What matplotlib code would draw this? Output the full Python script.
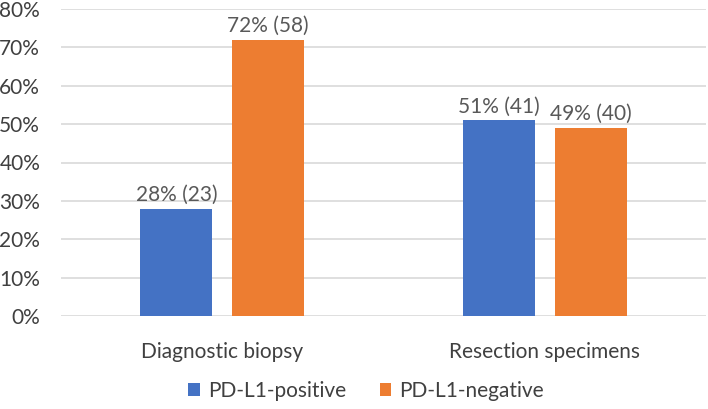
import matplotlib.pyplot as plt
import numpy as np

plt.rcParams['font.family'] = ['Lato', 'DejaVu Sans']

categories = ['Diagnostic biopsy', 'Resection specimens']
series_names = ['PD-L1-positive', 'PD-L1-negative']
positive_pct = [28, 51]
positive_n = [23, 41]
negative_pct = [72, 49]
negative_n = [58, 40]
colors = ['#4472C4', '#ED7D31']
text_color = '#595959'

fig = plt.figure(figsize=(7.08, 4.09), dpi=100)
ax = fig.add_axes([61 / 708, 93 / 409, 645 / 708, 307 / 409])

x = np.arange(len(categories))
width = 0.223
offset = 0.142

bars1 = ax.bar(x - offset, positive_pct, width, color=colors[0], label=series_names[0], zorder=3)
bars2 = ax.bar(x + offset, negative_pct, width, color=colors[1], label=series_names[1], zorder=3)

for bars, pcts, ns in [(bars1, positive_pct, positive_n), (bars2, negative_pct, negative_n)]:
    for b, p, n in zip(bars, pcts, ns):
        ax.text(b.get_x() + b.get_width() / 2, b.get_height() + 1.0, f'{p}% ({n})',
                ha='center', va='bottom', fontsize=15, color=text_color)

ax.set_xlim(-0.5, 1.5)
ax.set_ylim(0, 80)
ax.set_yticks(np.arange(0, 81, 10))
ax.set_yticklabels([f'{v}%' for v in range(0, 81, 10)])
ax.set_xticks(x)
ax.set_xticklabels(categories)
ax.tick_params(axis='both', length=0, labelsize=15, labelcolor='#404040')
ax.tick_params(axis='y', pad=15)
ax.tick_params(axis='x', pad=19)
ax.yaxis.grid(True, color='#D9D9D9', linewidth=1.2, zorder=0)
for s in ax.spines.values():
    s.set_visible(False)

leg = ax.legend(loc='upper center', bbox_to_anchor=(0.473, -0.15), ncol=2, frameon=False,
                fontsize=15, handlelength=0.55, handleheight=0.55, columnspacing=1.6,
                handletextpad=0.4)
for t in leg.get_texts():
    t.set_color('#404040')

fig.savefig('out.png', dpi=100)
